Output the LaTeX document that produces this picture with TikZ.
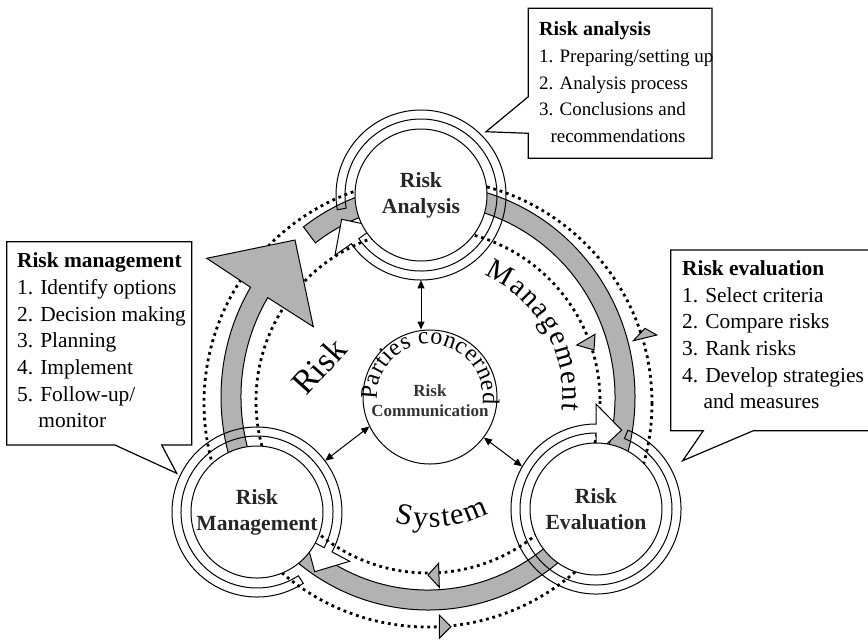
\documentclass[tikz,border=0pt]{standalone}
\usepackage{fontspec}
\setmainfont{Liberation Serif}
\usetikzlibrary{arrows.meta,decorations.text,calc}
\newcommand\riskring[4]{% x, y, start angle, base angle
\begin{scope}[shift={(#1,#2)}]
 \fill[white] (#4:105) -- (#4+18:83) -- (#4:55) -- cycle;
 \draw[ringline] (#3:85) arc[start angle=#3, end angle=#4, radius=85] -- (#4:105) -- (#4+18:83) -- (#4:55) -- (#4:76) arc[start angle=#4, end angle=#3, radius=76] -- cycle;
 \filldraw[ringline, fill=white] (0,0) circle (66);
\end{scope}}
\begin{document}
\begin{tikzpicture}[x=0.5pt,y=-0.5pt,
  band/.style={fill=black!30, draw=black, line width=0.5pt},
  dots/.style={line width=1.4pt, dash pattern=on 1.4pt off 1.9pt},
  ringline/.style={draw=black, line width=0.5pt},
  tri/.style={fill=black!30, draw=black, line width=0.5pt},
  callout/.style={fill=white, draw=black, line width=0.6pt},
  ctext/.style={anchor=north west, inner sep=0pt, align=left, font=\fontsize{10.7}{13.33}\selectfont},
  station/.style={circle, minimum size=85pt, inner sep=0pt, align=center, font=\fontsize{10.8}{13}\selectfont\bfseries, text=black!85},
  conn/.style={{Triangle[length=4pt,width=3.5pt]}-{Triangle[length=4pt,width=3.5pt]}, line width=0.5pt},
  bigword/.style={font=\fontsize{17}{17}\selectfont},
]
\useasboundingbox (0,0) rectangle (868,639);
\fill[white] (0,0) rectangle (868,639);

% dotted feedback circles
\draw[dots] (428,403) circle (224);
\draw[dots] (428,401) circle (172);

% gray band with big arrow
\begin{scope}[shift={(428,397)}]
\filldraw[band] (233:207 and 213) arc[start angle=233,end angle=571,x radius=207,y radius=213]
  -- (-221.3,-138.7) -- (-133,-157) -- (-114.7,-70.3)
  -- (571:187 and 193) arc[start angle=571,end angle=233,x radius=187,y radius=193] -- cycle;
\end{scope}

% small arrowheads on dotted circles
\filldraw[tri] (633.3,340.7) -- (656.7,335) -- (645,328.3) -- cycle;
\filldraw[tri] (576.7,345) -- (595,334.3) -- (594,350) -- cycle;
\filldraw[tri] (428,575) -- (438.6,563.3) -- (439.3,587.3) -- cycle;
\filldraw[tri] (439.3,615) -- (451,626.7) -- (439.3,638.3) -- cycle;

% stations
\riskring{421}{195}{170}{505}
\riskring{257}{512}{57}{388}
\riskring{596}{509}{292}{630}
\node[station] (ana) at (421,195) {Risk\\Analysis};
\node[station] (man) at (257,512) {Risk\\Management};
\node[station] (eva) at (596,509) {Risk\\Evaluation};

% central circle
\node[circle, draw, fill=white, minimum size=67pt, inner sep=0pt, line width=0.5pt] (cen) at (430,397) {};
\node[align=center, font=\fontsize{8.5}{10}\selectfont\bfseries, text=black!80] (cent) at (430,401) {Risk\\Communication};
\begin{scope}[shift={(430,397)}]
\path[decorate, decoration={text along path, text align=fit to path,
  text={|\fontsize{12}{12}\selectfont|Parties concerned}}] (177:53) arc[start angle=177, end angle=368, radius=53];
\end{scope}

% connectors
\draw[conn] (ana.south) -- (ana.south |- cen.north);
\draw[conn] (cen.206.6) -- (man.37);
\draw[conn] (cen.323) -- (eva.150);

% big words
\node[bigword, rotate=48] (wrisk) at (319,366) {Risk};
\begin{scope}[shift={(430,397)}]
\path[decorate, decoration={text along path, text align=fit to path,
  text={|\fontsize{14.5}{14.5}\selectfont|Management}}] (-66:133) arc[start angle=-66, end angle=6, radius=133];
\path[decorate, decoration={text along path, text align=fit to path,
  text={|\fontsize{15}{15}\selectfont|System}}] (106:130) arc[start angle=106, end angle=63, radius=130];
\end{scope}

% callouts
\filldraw[callout] (528.3,8.3) -- (712,8.3) -- (712,158.3) -- (528.3,158.3) -- (528.3,133.3) -- (486,131.7) -- (528.3,96.7) -- cycle;
\node[ctext, font=\fontsize{9.5}{13.33}\selectfont] (cta) at (538.7,21.5) {\textbf{\fontsize{10}{13.33}\selectfont Risk analysis}\\1. Preparing/setting up\\2. Analysis process\\3. Conclusions and\\\hspace{5.7pt}recommendations};

\filldraw[callout] (6.7,241.7) -- (191.7,241.7) -- (191.7,445) -- (161.7,445) -- (176.7,473.3) -- (115,445) -- (6.7,445) -- cycle;
\node[ctext] (ctm) at (16.7,252.5) {\textbf{Risk management}\\1. Identify options\\2. Decision making\\3. Planning\\4. Implement\\5. Follow-up/\\\phantom{5.~}monitor};

\filldraw[callout] (670.7,250) -- (880,250) -- (880,430.7) -- (753.3,430.7) -- (682.7,460.7) -- (703.3,430.7) -- (670.7,430.7) -- cycle;
\node[ctext] (cte) at (681.7,260.2) {\textbf{Risk evaluation}\\1. Select criteria\\2. Compare risks\\3. Rank risks\\4. Develop strategies\\\phantom{4.~}and measures};
\end{tikzpicture}
\end{document}
